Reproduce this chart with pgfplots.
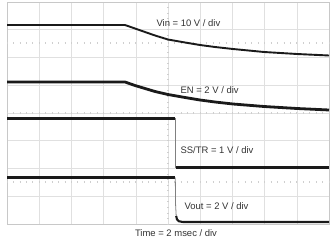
\documentclass[border=0pt]{standalone}
\usepackage{pgfplots}
\pgfplotsset{compat=1.18}
\usepackage{fontspec}
\setmainfont{Liberation Sans}
\definecolor{trace}{HTML}{1A1A1A}
\definecolor{gridc}{HTML}{E0E0E0}
\definecolor{framec}{HTML}{C8C8C8}
\definecolor{tickc}{HTML}{CFCFCF}
\definecolor{txt}{HTML}{333333}
\begin{document}
\begin{tikzpicture}
\begin{axis}[
  scale only axis, width=322bp, height=222bp,
  xmin=7, xmax=329, ymin=2, ymax=224, y dir=reverse,
  axis line style={framec, line width=0.9bp},
  xtick={39.2,71.4,103.6,135.8,168,200.2,232.4,264.6,296.8},
  ytick={29.75,57.5,85.25,113,140.75,168.5,196.25},
  xticklabels={}, yticklabels={},
  major tick length=0pt,
  grid=major, major grid style={gridc, line width=0.6bp},
  clip=false,
  every axis plot/.append style={trace, line join=round},
  font=\fontsize{9.5}{11}\selectfont,
]
% bounding box of the whole image
\path (axis cs:0,0) rectangle (axis cs:333,250);
% dotted tick lines
\draw[tickc, line width=1.6bp, dash pattern=on 0.7bp off 5.74bp, dash phase=0.35bp] (axis cs:7,43) -- (axis cs:329,43);
\draw[tickc, line width=1.6bp, dash pattern=on 0.7bp off 5.74bp, dash phase=0.35bp] (axis cs:7,113) -- (axis cs:329,113);
\draw[tickc, line width=1.6bp, dash pattern=on 0.7bp off 5.74bp, dash phase=0.35bp] (axis cs:7,182) -- (axis cs:329,182);
\draw[tickc, line width=1.6bp, dash pattern=on 0.7bp off 4.85bp, dash phase=0.35bp] (axis cs:168,2) -- (axis cs:168,224);

% Vin
\addplot[line width=1.9bp] coordinates {
(7,25) (125,25) (135,28.5) (145,32) (155,35.5) (168,39.5) (185,42.5) (200,45) (215,47) (233,49) (264,52) (297,54) (329,55.5)};
% EN
\addplot[line width=2.8bp] coordinates {
(7,82) (125,82) (135,85.5) (145,88.5) (155,91.5) (168,94.5) (185,97.5) (200,100) (215,102) (233,104) (264,106.5) (297,108.5) (329,110)};
% SS/TR
\addplot[line width=2.4bp] coordinates {(7,118.3) (175.3,118.3)};
\addplot[line width=0.8bp, color=gray] coordinates {(175.5,118.3) (175.5,167.5)};
\addplot[line width=2.1bp] coordinates {(175.5,167.5) (329,167.5)};
% Vout
\addplot[line width=2.1bp] coordinates {(7,177.5) (175,177.5)};
\addplot[line width=0.8bp, color=gray] coordinates {(175.3,177.5) (175.6,205) (176.2,216)};
\addplot[line width=2.1bp] coordinates {(176.2,216) (177,219.5) (179,221.3) (183,222) (329,222)};

% labels
\node[anchor=west, txt] at (axis cs:153,23.5) {Vin = 10 V / div};
\node[anchor=west, txt] at (axis cs:177,90.5) {EN = 2 V / div};
\node[anchor=west, txt] at (axis cs:177,150.5) {SS/TR = 1 V / div};
\node[anchor=west, txt] at (axis cs:181,206.5) {Vout = 2 V / div};
\node[txt] at (axis cs:176,232.8) {Time = 2 msec / div};
\end{axis}
\end{tikzpicture}
\end{document}
